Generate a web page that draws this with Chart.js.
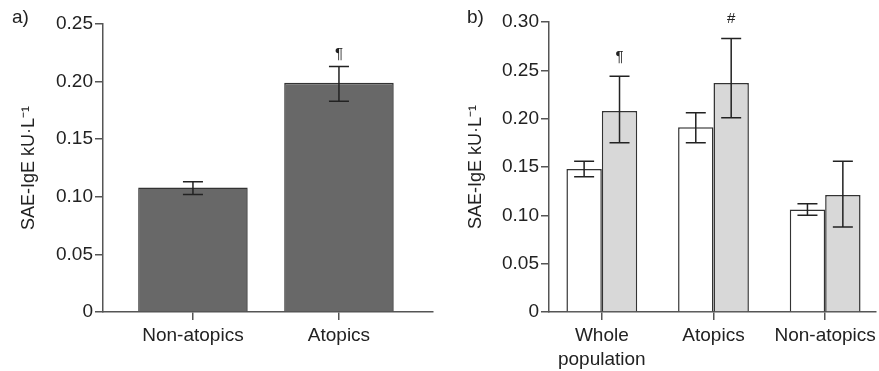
<!DOCTYPE html>
<html>
<head>
<meta charset="utf-8">
<script src="https://cdn.jsdelivr.net/npm/chart.js@4"></script>
<style>
  body { margin: 0; background: #fff; }
  #wrap { position: relative; width: 879px; height: 371px; }
  canvas { position: absolute; top: 0; }
  #chartA { left: 0; }
  #chartB { left: 440px; }
  .panel { position: absolute; top: 6px; font: 19px 'Liberation Sans', Arial, sans-serif; color: #222; }
</style>
</head>
<body>
<div id="wrap">
  <canvas id="chartA" width="440" height="371"></canvas>
  <canvas id="chartB" width="439" height="371"></canvas>
  <div class="panel" style="left:12px">a)</div>
  <div class="panel" style="left:467px">b)</div>
</div>
<script>
//panel a data
const catsA = ['Non-atopics', 'Atopics'];
const meanA = [0.108, 0.199];
const lowA = [0.102, 0.183];
const highA = [0.113, 0.213];
const marksA = ['', '¶'];

//panel b data
const catsB = [['Whole', 'population'], 'Atopics', 'Non-atopics'];
const meanB1 = [0.148, 0.191, 0.106];
const lowB1 = [0.140, 0.175, 0.100];
const highB1 = [0.156, 0.206, 0.112];
const meanB2 = [0.208, 0.237, 0.121];
const lowB2 = [0.175, 0.201, 0.088];
const highB2 = [0.244, 0.283, 0.156];
const marksB1 = ['', '', ''];
const marksB2 = ['¶', '#', ''];

const yTicksA = [0, 0.05, 0.10, 0.15, 0.20, 0.25];
const yTicksB = [0, 0.05, 0.10, 0.15, 0.20, 0.25, 0.30];

const FONT = "'Liberation Sans', Arial, sans-serif";
const INK = '#222';
const AXIS = '#555';

Chart.defaults.font.family = FONT;
Chart.defaults.color = INK;

//draws error bars and the little significance marks above them
const errorBars = {
  id: 'errorBars',
  afterDatasetsDraw(chart, args, opts) {
    const ctx = chart.ctx;
    const y = chart.scales.y;
    chart.data.datasets.forEach((ds, i) => {
      const meta = chart.getDatasetMeta(i);
      meta.data.forEach((bar, j) => {
        const top = y.getPixelForValue(ds.errHigh[j]);
        const bot = y.getPixelForValue(ds.errLow[j]);
        ctx.save();
        ctx.strokeStyle = INK;
        ctx.lineWidth = 1.5;
        ctx.beginPath();
        ctx.moveTo(bar.x, top); ctx.lineTo(bar.x, bot);
        ctx.moveTo(bar.x - 10, top); ctx.lineTo(bar.x + 10, top);
        ctx.moveTo(bar.x - 10, bot); ctx.lineTo(bar.x + 10, bot);
        ctx.stroke();
        if (ds.marks && ds.marks[j]) {
          ctx.fillStyle = INK;
          ctx.font = '15px ' + FONT;
          ctx.textAlign = 'center';
          ctx.textBaseline = 'alphabetic';
          ctx.fillText(ds.marks[j], bar.x, top - opts.gap);
        }
        ctx.restore();
      });
    });
  }
};

function points(vals) {
  return vals.map((v, i) => ({ x: i, y: v }));
}

function makeOptions(cats, yTicks, xMin, xMax, yWidth, titlePad, pad, gap, catPct, barPct) {
  return {
    responsive: false,
    animation: false,
    devicePixelRatio: 1,
    layout: { padding: pad },
    datasets: { bar: { categoryPercentage: catPct, barPercentage: barPct } },
    plugins: { legend: { display: false }, tooltip: { enabled: false }, errorBars: { gap: gap } },
    scales: {
      x: {
        type: 'linear',
        offset: false,
        min: xMin,
        max: xMax,
        afterBuildTicks: s => { s.ticks = cats.map((c, i) => ({ value: i })); },
        afterFit: s => { s.height = 59; },
        grid: { offset: false, drawOnChartArea: false, color: AXIS, lineWidth: 1.5, tickLength: 8 },
        border: { color: AXIS, width: 1.5 },
        ticks: {
          autoSkip: false, maxRotation: 0, padding: 3,
          font: { size: 19, lineHeight: 1.3 },
          callback: v => cats[v]
        }
      },
      y: {
        min: 0,
        max: yTicks[yTicks.length - 1],
        afterBuildTicks: s => { s.ticks = yTicks.map(v => ({ value: v })); },
        afterFit: s => { s.width = yWidth; },
        grid: { drawOnChartArea: false, color: AXIS, lineWidth: 1.5, tickLength: 8 },
        border: { color: AXIS, width: 1.5 },
        ticks: {
          padding: 2,
          font: { size: 19 },
          callback: v => v === 0 ? '0' : v.toFixed(2)
        },
        title: {
          display: true,
          text: 'SAE-IgE kU·L⁻¹',
          font: { size: 18 },
          padding: { top: titlePad, bottom: 0 }
        }
      }
    }
  };
}

new Chart(document.getElementById('chartA'), {
  type: 'bar',
  data: {
    datasets: [{
      label: 'SAE-IgE',
      data: points(meanA),
      errLow: lowA, errHigh: highA, marks: marksA,
      backgroundColor: '#686868', borderColor: '#333', borderWidth: 1.5
    }]
  },
  options: makeOptions(catsA, yTicksA, -0.616, 1.644, 103, 18,
    { left: 0, right: 7, top: 24, bottom: 0 }, 9, 1, 0.75),
  plugins: [errorBars]
});

new Chart(document.getElementById('chartB'), {
  type: 'bar',
  data: {
    datasets: [{
      label: 'Series 1',
      data: points(meanB1),
      errLow: lowB1, errHigh: highB1, marks: marksB1,
      backgroundColor: '#ffffff', borderColor: '#333', borderWidth: 1.5
    }, {
      label: 'Series 2',
      data: points(meanB2),
      errLow: lowB2, errHigh: highB2, marks: marksB2,
      backgroundColor: '#d8d8d8', borderColor: '#333', borderWidth: 1.5
    }]
  },
  options: makeOptions(catsB, yTicksB, -0.473, 2.455, 109, 25,
    { left: 0, right: 1, top: 22, bottom: 0 }, 15, 0.634, 1),
  plugins: [errorBars]
});
</script>
</body>
</html>
